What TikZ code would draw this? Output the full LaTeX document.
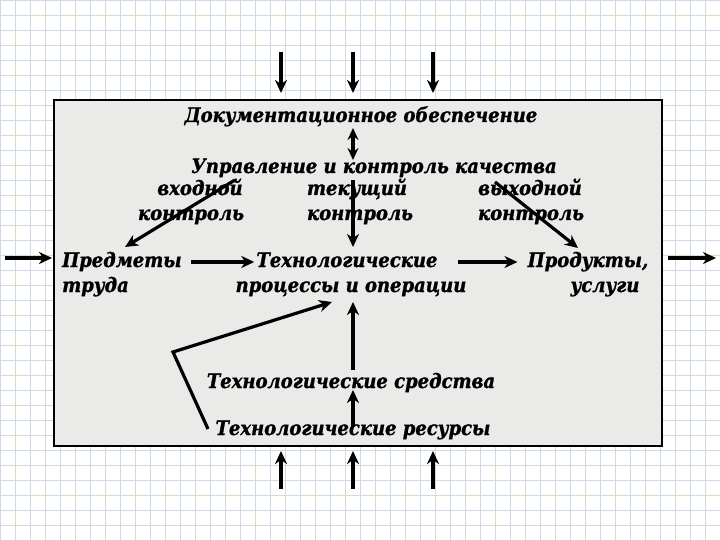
\documentclass[tikz,border=0pt]{standalone}
\usepackage{fontspec}
\setmainfont{DejaVu Serif Condensed}[BoldItalicFeatures={FakeBold=1.2}]
\usetikzlibrary{arrows.meta}
\definecolor{gridc}{RGB}{210,217,227}
\definecolor{boxfill}{RGB}{234,234,232}
\tikzset{
  txt/.style={font=\fontsize{20}{22}\selectfont\bfseries\itshape, inner sep=0pt, text height=14pt, text depth=4pt},
  arr/.style={line width=3.2pt, -{Stealth[length=13pt,width=12pt,inset=4pt]}},
  darr/.style={line width=3.2pt, {Stealth[length=12pt,width=11pt,inset=4pt]}-{Stealth[length=12pt,width=11pt,inset=4pt]}},
}
\begin{document}
\begin{tikzpicture}[x=1pt,y=-1pt]
\useasboundingbox (0,0) rectangle (720,540);
\fill[white] (0,0) rectangle (720,540);
\foreach \gx in {0,15,...,720} {\draw[gridc, line width=0.7pt] (\gx,0) -- (\gx,540);}
\foreach \gy in {0,15,...,540} {\draw[gridc, line width=0.7pt] (0,\gy) -- (720,\gy);}
% main box
\draw[line width=2.2pt, fill=boxfill] (54,100) rectangle (662,446);
% texts
\node[txt] (doc) at (361,117) {Документационное обеспечение};
\node[txt] (upr) at (374,168) {Управление и контроль качества};
\node[txt] (vh) at (200,190) {входной};
\node[txt] (tek) at (357,190) {текущий};
\node[txt] (vyh) at (530,190) {выходной};
\node[txt] (k1) at (191,215) {контроль};
\node[txt] (k2) at (360,215) {контроль};
\node[txt] (k3) at (531,215) {контроль};
\node[txt, anchor=west] (pred1) at (62,262) {Предметы};
\node[txt, anchor=west] (pred2) at (62,287) {труда};
\node[txt] (tech1) at (347,262) {Технологические};
\node[txt] (tech2) at (351,287) {процессы и операции};
\node[txt] (prod1) at (588,262) {Продукты,};
\node[txt] (prod2) at (605,287) {услуги};
\node[txt] (sred) at (351,383) {Технологические средства};
\node[txt] (res) at (353,430) {Технологические ресурсы};
% free-end coordinates
\coordinate (t1s) at (281,52); \coordinate (t1e) at (281,93);
\coordinate (t2s) at (353,52); \coordinate (t2e) at (353,93);
\coordinate (t3s) at (433,52); \coordinate (t3e) at (433,93);
\coordinate (b1s) at (281,489); \coordinate (b1e) at (281,451);
\coordinate (b2s) at (353,489); \coordinate (b2e) at (353,451);
\coordinate (b3s) at (433,489); \coordinate (b3e) at (433,451);
\coordinate (ls) at (5,258); \coordinate (le) at (52,258);
\coordinate (rs) at (668,258); \coordinate (re) at (716,258);
\coordinate (dA) at (353,128); \coordinate (dB) at (353,160);
\coordinate (vA) at (353,180); \coordinate (vB) at (353,247);
\coordinate (lA) at (235,180); \coordinate (lB) at (125,247);
\coordinate (rA) at (495,182); \coordinate (rB) at (578,248);
\coordinate (aA) at (208,429); \coordinate (aC) at (173,352); \coordinate (aB) at (332,302);
\coordinate (sA) at (353,370); \coordinate (sB) at (353,302);
\coordinate (qA) at (353,427); \coordinate (qB) at (353,390);
% arrows
\draw[arr] (t1s) -- (t1e);
\draw[arr] (t2s) -- (t2e);
\draw[arr] (t3s) -- (t3e);
\draw[arr] (b1s) -- (b1e);
\draw[arr] (b2s) -- (b2e);
\draw[arr] (b3s) -- (b3e);
\draw[arr] (ls) -- (le);
\draw[arr] (rs) -- (re);
\draw[darr] (dA) -- (dB);
\draw[arr] (vA) -- (vB);
\draw[arr] (lA) -- (lB);
\draw[arr] (rA) -- (rB);
\draw[arr, shorten <=9pt, shorten >=2pt] (pred1.east) -- (tech1.west);
\draw[arr, shorten <=20pt, shorten >=10pt] (tech1.east) -- (prod1.west);
\draw[arr, line join=miter] (aA) -- (aC) -- (aB);
\draw[arr] (sA) -- (sB);
\draw[arr] (qA) -- (qB);
\end{tikzpicture}
\end{document}
